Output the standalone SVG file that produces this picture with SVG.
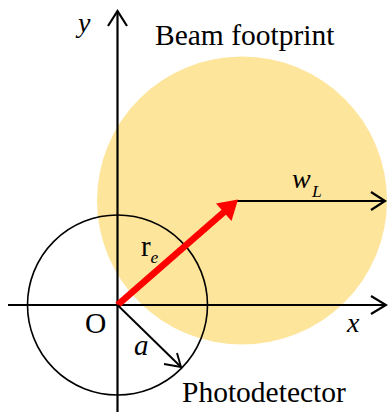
<svg xmlns="http://www.w3.org/2000/svg" width="388" height="412" viewBox="0 0 388 412">
<style>
text{font-family:"Liberation Serif","Times New Roman",serif;fill:#000}
.it{font-style:italic}
.ax{stroke:#000;stroke-width:2.2;fill:none}
.thin{stroke:#000;stroke-width:1.6;fill:none}
</style>
<rect width="388" height="412" fill="#fff"/>
<g id="beam">
<ellipse cx="242" cy="200.5" rx="145" ry="144" fill="#FEE59C"/>
<text x="155" y="45" font-size="29.5">Beam footprint</text>
</g>
<g id="photodetector">
<circle cx="117.5" cy="305" r="90" class="thin"/>
<text x="182" y="402" font-size="29.5">Photodetector</text>
</g>
<g id="connectors">
<g id="x-axis">
<line x1="8" y1="305" x2="386" y2="305" class="ax"/>
<polyline points="371,296 386,305 371,314" class="ax"/>
<text x="347" y="332" font-size="28" class="it">x</text>
</g>
<g id="y-axis">
<line x1="117.5" y1="412" x2="117.5" y2="11" class="ax"/>
<polyline points="108,26 117.5,11 127,26" class="ax"/>
<text x="78" y="32" font-size="28" class="it">y</text>
</g>
<g id="wL">
<line x1="237" y1="201" x2="385" y2="201" class="ax"/>
<polyline points="371,192 385,201 371,210" class="ax"/>
<text x="292" y="188" font-size="28" class="it">w</text>
<text x="312" y="197" font-size="17.5" class="it">L</text>
</g>
<g id="re">
<line x1="117.5" y1="305" x2="224" y2="212" stroke="#FF0000" stroke-width="6.5"/>
<polygon points="238,199.5 231.5,221 216,203.5" fill="#FF0000"/>
<text x="141" y="256" font-size="29">r</text>
<text x="150.5" y="263" font-size="17.5" class="it">e</text>
</g>
<g id="a">
<line x1="117.5" y1="305" x2="181" y2="367" stroke="#000" stroke-width="1.9"/>
<polyline points="164,364 181,367 177,353" stroke="#000" stroke-width="1.9" fill="none"/>
<text x="134" y="355" font-size="29" class="it">a</text>
</g>
<text x="85" y="333" font-size="29.5">O</text>
</g>
</svg>
